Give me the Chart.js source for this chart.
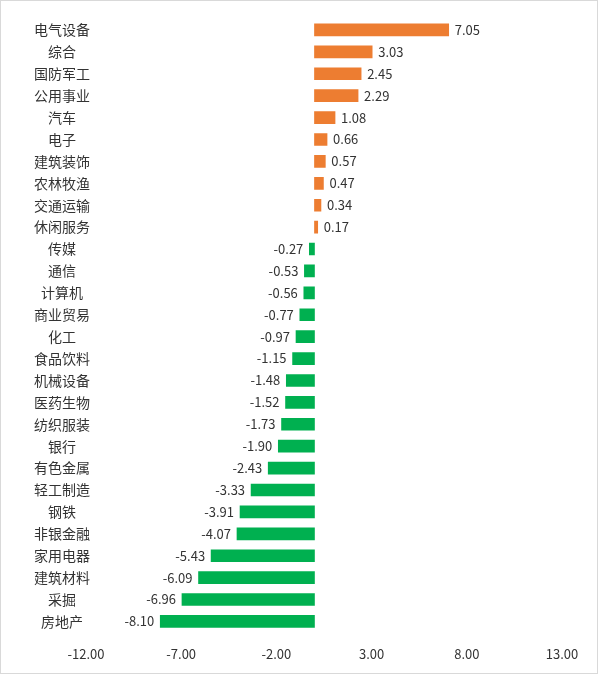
<!DOCTYPE html><html><head><script src="https://cdn.jsdelivr.net/npm/chart.js@4"></script>
<style>body{margin:0;background:#fff}#w{width:598px;height:674px;box-sizing:border-box;border:1px solid #d9d9d9}</style></head><body><div id="w"><canvas id="c"></canvas></div>
<script>
const categories=["电气设备","综合","国防军工","公用事业","汽车","电子","建筑装饰","农林牧渔","交通运输","休闲服务","传媒","通信","计算机","商业贸易","化工","食品饮料","机械设备","医药生物","纺织服装","银行","有色金属","轻工制造","钢铁","非银金融","家用电器","建筑材料","采掘","房地产"];
const values=[7.05,3.03,2.45,2.29,1.08,0.66,0.57,0.47,0.34,0.17,-0.27,-0.53,-0.56,-0.77,-0.97,-1.15,-1.48,-1.52,-1.73,-1.90,-2.43,-3.33,-3.91,-4.07,-5.43,-6.09,-6.96,-8.10];
const xTicks=[-12,-7,-2,3,8,13];
const F="'Noto Sans CJK SC','Liberation Sans',sans-serif";
const lab={id:'lab',afterDatasetsDraw(ch){const c=ch.ctx,x=ch.scales.x,y=ch.scales.y;c.save();c.fillStyle="#333";c.textBaseline="middle";
categories.forEach((t,i)=>{const py=y.getPixelForValue(i);c.font="14px "+F;c.textAlign="center";c.fillText(t,61,py);
c.font="13px "+F;const v=values[i],px=x.getPixelForValue(v);if(v>=0){c.textAlign="left";c.fillText(v.toFixed(2),px+6,py);}else{c.textAlign="right";c.fillText(v.toFixed(2),px-6,py);}});c.restore();}};
new Chart(document.getElementById('c'),{type:'bar',data:{labels:categories,datasets:[{data:values,backgroundColor:values.map(v=>v>=0?'#ED7D31':'#00B050'),barThickness:12}]},
options:{indexAxis:'y',responsive:true,maintainAspectRatio:false,animation:false,layout:{padding:{left:85,right:35,top:18,bottom:5}},
plugins:{legend:{display:false},tooltip:{enabled:false}},
scales:{x:{min:-12,max:13,afterBuildTicks(s){s.ticks=xTicks.map(v=>({value:v}));},grid:{display:false},border:{display:false},ticks:{font:{size:13,family:F},color:'#333',callback:v=>Number(v).toFixed(2),padding:6}},
y:{display:false,offset:true}}},plugins:[lab]});
</script></body></html>
